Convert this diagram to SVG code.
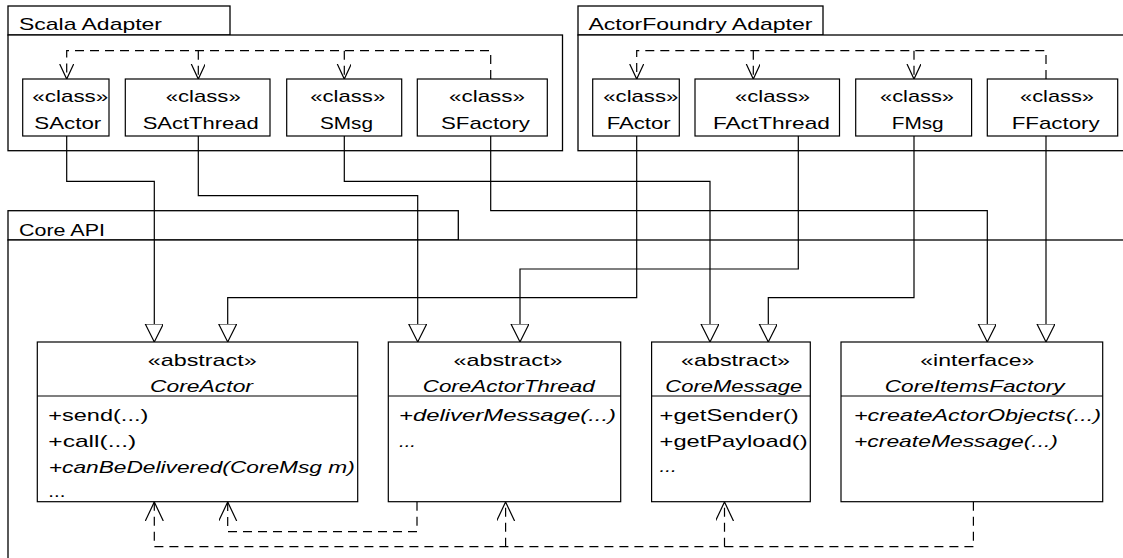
<svg xmlns="http://www.w3.org/2000/svg" width="1123" height="558" viewBox="0 0 1123 558">
<style>
text{font-family:"Liberation Sans",Arial,sans-serif;font-size:17px;fill:#000}
.it{font-style:italic}
.pk{fill:#fff;stroke:#000;stroke-width:1.3}
.bx{fill:#fff;stroke:#000;stroke-width:1.2}
.ln{fill:none;stroke:#000;stroke-width:1.2}
.dl{fill:none;stroke:#000;stroke-width:1.2;stroke-dasharray:9 6}
.tri{fill:#fff;stroke:#000;stroke-width:1.2}
.opn{fill:none;stroke:#000;stroke-width:1.2}
</style>
<defs>
<marker id="gen" markerWidth="20" markerHeight="20" refX="18" refY="9" orient="auto" markerUnits="userSpaceOnUse">
<path class="tri" d="M0,0 L18,9 L0,18 Z"/>
</marker>
<marker id="dep" markerWidth="18" markerHeight="18" refX="15" refY="7" orient="auto" markerUnits="userSpaceOnUse">
<path class="opn" d="M0,0 L15,7 L0,14"/>
</marker>
<marker id="dep2" markerWidth="22" markerHeight="22" refX="19" refY="9" orient="auto" markerUnits="userSpaceOnUse">
<path class="opn" d="M0,0 L19,9 L0,18"/>
</marker>
</defs>

<g id="pkg-scala">
<rect class="pk" x="8" y="6" width="222" height="29"/>
<rect class="pk" x="8" y="35" width="554.5" height="115.7"/>
<text x="19" y="29.5" textLength="143" lengthAdjust="spacingAndGlyphs">Scala Adapter</text>
</g>
<g id="pkg-af">
<rect class="pk" x="578" y="6" width="245" height="29"/>
<rect class="pk" x="578" y="35" width="570" height="115.7"/>
<text x="588.5" y="29.5" textLength="224" lengthAdjust="spacingAndGlyphs">ActorFoundry Adapter</text>
</g>
<g id="pkg-core">
<rect class="pk" x="8" y="210.7" width="450.3" height="29.3"/>
<rect class="pk" x="8" y="240" width="1140" height="340"/>
<text x="19" y="235.5" textLength="86" lengthAdjust="spacingAndGlyphs">Core API</text>
</g>

<g id="connectors">
<path class="dl" d="M490.7,79 V50.7 H66.7 V79" marker-end="url(#dep)"/>
<path class="dl" d="M198.3,50.7 V79" marker-end="url(#dep)"/>
<path class="dl" d="M344.3,50.7 V79" marker-end="url(#dep)"/>
<path class="dl" d="M1046,79 V50.7 H636.7 V79" marker-end="url(#dep)"/>
<path class="dl" d="M753.3,50.7 V79" marker-end="url(#dep)"/>
<path class="dl" d="M914,50.7 V79" marker-end="url(#dep)"/>
<path class="ln" d="M66.7,136 V181.3 H154.3 V342" marker-end="url(#gen)"/>
<path class="ln" d="M198.3,136 V195.7 H417.7 V342" marker-end="url(#gen)"/>
<path class="ln" d="M344.3,136 V181.3 H710 V342" marker-end="url(#gen)"/>
<path class="ln" d="M490.7,136 V210.7 H987.3 V342" marker-end="url(#gen)"/>
<path class="ln" d="M636.7,136 V297.7 H227.7 V342" marker-end="url(#gen)"/>
<path class="ln" d="M798.3,136 V269 H520 V342" marker-end="url(#gen)"/>
<path class="ln" d="M914,136 V297.7 H768.3 V342" marker-end="url(#gen)"/>
<path class="ln" d="M1046,136 V342" marker-end="url(#gen)"/>
<path class="dl" d="M417,501.7 V531.7 H227.7 V502" marker-end="url(#dep2)"/>
<path class="dl" d="M973.4,501.7 V546.7 H154.3 V502" marker-end="url(#dep2)"/>
<path class="dl" d="M505.6,546.7 V502" marker-end="url(#dep2)"/>
<path class="dl" d="M724.5,546.7 V502" marker-end="url(#dep2)"/>
</g>

<g id="SActor">
<rect class="bx" x="22.7" y="79" width="86.3" height="57"/>
<text x="32.3" y="101.7" textLength="76" lengthAdjust="spacingAndGlyphs">«class»</text>
<text x="34.3" y="129.3" textLength="67" lengthAdjust="spacingAndGlyphs">SActor</text>
</g>
<g id="SActThread">
<rect class="bx" x="125.3" y="79" width="144.7" height="57"/>
<text x="165.7" y="101.7" textLength="75" lengthAdjust="spacingAndGlyphs">«class»</text>
<text x="142.7" y="129.3" textLength="116" lengthAdjust="spacingAndGlyphs">SActThread</text>
</g>
<g id="SMsg">
<rect class="bx" x="286.7" y="79" width="115" height="57"/>
<text x="310.2" y="101.7" textLength="75" lengthAdjust="spacingAndGlyphs">«class»</text>
<text x="320" y="129.3" textLength="53" lengthAdjust="spacingAndGlyphs">SMsg</text>
</g>
<g id="SFactory">
<rect class="bx" x="417.3" y="79" width="130" height="57"/>
<text x="449" y="101.7" textLength="76" lengthAdjust="spacingAndGlyphs">«class»</text>
<text x="441" y="129.3" textLength="89" lengthAdjust="spacingAndGlyphs">SFactory</text>
</g>
<g id="FActor">
<rect class="bx" x="592.7" y="79" width="86.6" height="57"/>
<text x="603.3" y="101.7" textLength="75" lengthAdjust="spacingAndGlyphs">«class»</text>
<text x="606.7" y="129.3" textLength="64" lengthAdjust="spacingAndGlyphs">FActor</text>
</g>
<g id="FActThread">
<rect class="bx" x="695" y="79" width="144.5" height="57"/>
<text x="735" y="101.7" textLength="75" lengthAdjust="spacingAndGlyphs">«class»</text>
<text x="712.9" y="129.3" textLength="117" lengthAdjust="spacingAndGlyphs">FActThread</text>
</g>
<g id="FMsg">
<rect class="bx" x="855.7" y="79" width="115.9" height="57"/>
<text x="880" y="101.7" textLength="74" lengthAdjust="spacingAndGlyphs">«class»</text>
<text x="891.7" y="129.3" textLength="52" lengthAdjust="spacingAndGlyphs">FMsg</text>
</g>
<g id="FFactory">
<rect class="bx" x="987.3" y="79" width="130.4" height="57"/>
<text x="1020" y="101.7" textLength="74" lengthAdjust="spacingAndGlyphs">«class»</text>
<text x="1011.7" y="129.3" textLength="88" lengthAdjust="spacingAndGlyphs">FFactory</text>
</g>

<g id="CoreActor">
<rect class="bx" x="37.3" y="342" width="320.4" height="159.7"/>
<line class="ln" x1="37.3" y1="396" x2="357.7" y2="396"/>
<text x="147.7" y="365.5" textLength="109" lengthAdjust="spacingAndGlyphs">«abstract»</text>
<text class="it" x="150" y="392" textLength="103" lengthAdjust="spacingAndGlyphs">CoreActor</text>
<text x="48.3" y="420.7" textLength="100" lengthAdjust="spacingAndGlyphs">+send(...)</text>
<text x="48.3" y="447" textLength="88" lengthAdjust="spacingAndGlyphs">+call(...)</text>
<text class="it" x="48.8" y="472.5" textLength="306" lengthAdjust="spacingAndGlyphs">+canBeDelivered(CoreMsg m)</text>
<text x="48.3" y="496.5" textLength="17" lengthAdjust="spacingAndGlyphs">...</text>
</g>
<g id="CoreActorThread">
<rect class="bx" x="388.3" y="342" width="232.4" height="159.7"/>
<line class="ln" x1="388.3" y1="396" x2="620.7" y2="396"/>
<text x="453.5" y="365.5" textLength="109" lengthAdjust="spacingAndGlyphs">«abstract»</text>
<text class="it" x="422.7" y="392" textLength="172" lengthAdjust="spacingAndGlyphs">CoreActorThread</text>
<text class="it" x="399" y="420.7" textLength="217" lengthAdjust="spacingAndGlyphs">+deliverMessage(...)</text>
<text class="it" x="399" y="447" textLength="17" lengthAdjust="spacingAndGlyphs">...</text>
</g>
<g id="CoreMessage">
<rect class="bx" x="651.6" y="342" width="158.7" height="159.7"/>
<line class="ln" x1="651.6" y1="396" x2="810.3" y2="396"/>
<text x="681" y="365.5" textLength="109" lengthAdjust="spacingAndGlyphs">«abstract»</text>
<text class="it" x="665.3" y="392" textLength="137" lengthAdjust="spacingAndGlyphs">CoreMessage</text>
<text x="659.6" y="420.7" textLength="139" lengthAdjust="spacingAndGlyphs">+getSender()</text>
<text x="659.6" y="447" textLength="148" lengthAdjust="spacingAndGlyphs">+getPayload()</text>
<text class="it" x="659.6" y="472" textLength="17" lengthAdjust="spacingAndGlyphs">...</text>
</g>
<g id="CoreItemsFactory">
<rect class="bx" x="841" y="342" width="261.7" height="159.7"/>
<line class="ln" x1="841" y1="396" x2="1102.7" y2="396"/>
<text x="920.3" y="365.5" textLength="114" lengthAdjust="spacingAndGlyphs">«interface»</text>
<text class="it" x="884.7" y="392" textLength="180" lengthAdjust="spacingAndGlyphs">CoreItemsFactory</text>
<text class="it" x="854" y="420.7" textLength="247" lengthAdjust="spacingAndGlyphs">+createActorObjects(...)</text>
<text class="it" x="854" y="447" textLength="204" lengthAdjust="spacingAndGlyphs">+createMessage(...)</text>
</g>
</svg>
